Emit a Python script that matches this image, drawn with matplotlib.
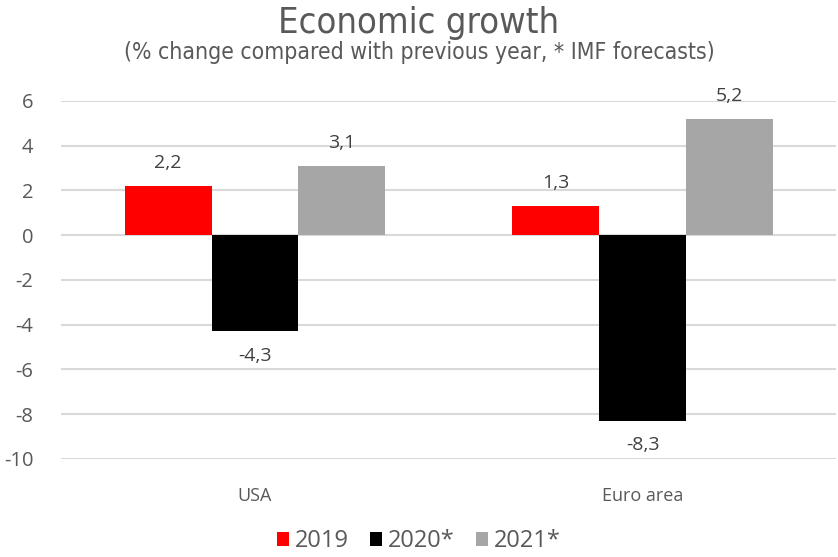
import numpy as np
import matplotlib.pyplot as plt

# Data
regions = ['USA', 'Euro area']
years = ['2019', '2020*', '2021*']
growth_2019 = [2.2, 1.3]
growth_2020 = [-4.3, -8.3]
growth_2021 = [3.1, 5.2]
colors = ['#FF0000', '#000000', '#A6A6A6']
yticks = [-10, -8, -6, -4, -2, 0, 2, 4, 6]

txt = '#595959'
plt.rcParams['font.family'] = ['Open Sans', 'DejaVu Sans']

fig = plt.figure(figsize=(8.38, 5.57), dpi=100)
ax = fig.add_axes([0.073, 0.176, 0.925, 0.643])

x = np.arange(len(regions))
w = 0.224
series = [growth_2019, growth_2020, growth_2021]
for i, (vals, col, lab) in enumerate(zip(series, colors, years)):
    bars = ax.bar(x + (i - 1) * w, vals, w, color=col, label=lab, zorder=3)
    for b, v in zip(bars, vals):
        off = 10 if v >= 0 else -11
        ax.annotate(f'{v:.1f}'.replace('.', ','),
                    (b.get_x() + b.get_width() / 2, v),
                    xytext=(0, off), textcoords='offset points',
                    ha='center', va='bottom' if v >= 0 else 'top',
                    fontsize=14, color='#404040')

ax.set_xlim(-0.5, 1.5)
ax.set_ylim(-10, 6)
ax.set_yticks(yticks)
ax.set_yticklabels([str(t) for t in yticks])
ax.set_xticks(x)
ax.set_xticklabels(regions)
ax.grid(axis='y', color='#D9D9D9', linewidth=1.5, zorder=0)
for s in ax.spines.values():
    s.set_visible(False)
ax.tick_params(axis='both', length=0, colors=txt, labelsize=14.5)
ax.tick_params(axis='y', pad=20)
ax.tick_params(axis='x', pad=20, labelsize=13)

cond = dict(family='DejaVu Sans', fontstretch='condensed')
fig.text(0.5, 0.958, 'Economic growth', ha='center', va='center',
         fontsize=26, color=txt, **cond)
fig.text(0.5, 0.905, '(% change compared with previous year, * IMF forecasts)',
         ha='center', va='center', fontsize=16.5, color=txt, **cond)

leg = fig.legend(loc='center', bbox_to_anchor=(0.5, 0.028), ncol=3,
                 frameon=False, fontsize=17, handlelength=0.5, handleheight=0.5,
                 handletextpad=0.25, columnspacing=0.9)
for t in leg.get_texts():
    t.set_color(txt)

fig.savefig('out.png', dpi=100)
